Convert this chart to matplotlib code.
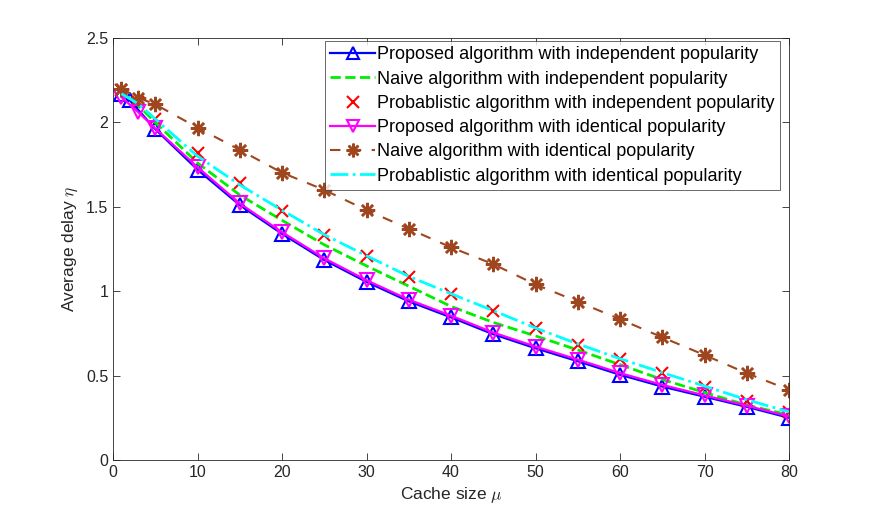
import numpy as np
import matplotlib
matplotlib.use("Agg")
import matplotlib.pyplot as plt

plt.rcParams["font.family"] = ["Liberation Sans", "DejaVu Sans"]
plt.rcParams["mathtext.fontset"] = "cm"

## values (cache size mu vs. average delay eta)
x_prop_ind = [1, 2, 5, 10, 15, 20, 25, 30, 35, 40, 45, 50, 55, 60, 65, 70, 75, 80]
y_prop_ind = [2.17, 2.13, 1.96, 1.72, 1.51, 1.34, 1.185, 1.055, 0.94, 0.845, 0.745, 0.662,
              0.585, 0.505, 0.435, 0.375, 0.315, 0.25]

x_grid = [1, 3, 5, 10, 15, 20, 25, 30, 35, 40, 45, 50, 55, 60, 65, 70, 75, 80]
y_naive_ind = [2.18, 2.10, 2.00, 1.76, 1.57, 1.42, 1.275, 1.15, 1.03, 0.91, 0.815, 0.735,
               0.652, 0.565, 0.477, 0.40, 0.325, 0.267]
y_prob_ind = [2.19, 2.12, 2.02, 1.817, 1.639, 1.477, 1.333, 1.209, 1.086, 0.983, 0.884, 0.78,
              0.683, 0.597, 0.514, 0.434, 0.351, 0.286]
y_prop_id = [2.15, 2.06, 1.965, 1.735, 1.52, 1.35, 1.195, 1.065, 0.95, 0.855, 0.755, 0.672,
             0.595, 0.515, 0.445, 0.383, 0.322, 0.258]
y_naive_id = [2.20, 2.146, 2.107, 1.969, 1.837, 1.702, 1.60, 1.48, 1.37, 1.26, 1.16, 1.04,
              0.938, 0.834, 0.727, 0.622, 0.514, 0.416]
y_prob_id = [2.17, 2.11, 2.02, 1.80, 1.63, 1.48, 1.335, 1.21, 1.088, 0.985, 0.885, 0.782,
             0.688, 0.60, 0.518, 0.438, 0.357, 0.285]

labels = [
    "Proposed algorithm with independent popularity",
    "Naive algorithm with independent popularity",
    "Probablistic algorithm with independent popularity",
    "Proposed algorithm with identical popularity",
    "Naive algorithm with identical popularity",
    "Probablistic algorithm with identical popularity",
]

fig = plt.figure(figsize=(8.72, 5.16), dpi=100)
ax = fig.add_axes([113 / 872, 1 - 460 / 516, 676 / 872, 422 / 516])

ax.plot(x_prop_ind, y_prop_ind, linestyle="-", color="#0000ff", lw=1.6, marker="^", ms=10,
        mfc="none", mew=1.5, label=labels[0])
ax.plot(x_grid, y_naive_ind, linestyle="--", color="#00ee00", lw=2.0, label=labels[1])
ax.plot(x_grid, y_prob_ind, linestyle="none", color="#ff0000", marker="x", ms=9, mew=1.5,
        label=labels[2])
ax.plot(x_grid, y_prop_id, linestyle="-", color="#ff00ff", lw=1.6, marker="v", ms=10,
        mfc="none", mew=1.5, label=labels[3])
ax.plot(x_grid, y_naive_id, linestyle="--", color="#a0461e", lw=1.5, marker=(8, 2, 0), ms=11,
        mew=1.8, label=labels[4], dashes=(5, 5))
ax.plot(x_grid, y_prob_id, linestyle="-.", color="#00ffff", lw=2.0, label=labels[5])

ax.set_xlim(0, 80)
ax.set_ylim(0, 2.5)
ax.set_xticks(np.arange(0, 81, 10))
ax.set_yticks([0, 0.5, 1, 1.5, 2, 2.5])
ax.set_yticklabels(["0", "0.5", "1", "1.5", "2", "2.5"])
ax.tick_params(direction="in", top=True, right=True, labelsize=11.5,
               colors="#262626", length=5, width=0.6)
for sp in ax.spines.values():
    sp.set_color("#262626")
    sp.set_linewidth(0.6)

ax.set_xlabel(r"Cache size $\mu$", fontsize=12.5, color="#262626")
ax.set_ylabel(r"Average delay $\eta$", fontsize=12.5, color="#262626")

leg = ax.legend(loc="upper right", bbox_to_anchor=(0.9867, 0.9929), fontsize=13,
                frameon=True, fancybox=False, edgecolor="#262626", handlelength=2.5,
                handletextpad=0.1, borderpad=0.3, labelspacing=0.4, borderaxespad=0.0,
                markerscale=0.9)
leg.get_frame().set_linewidth(0.6)

fig.savefig("out.png", dpi=100)
